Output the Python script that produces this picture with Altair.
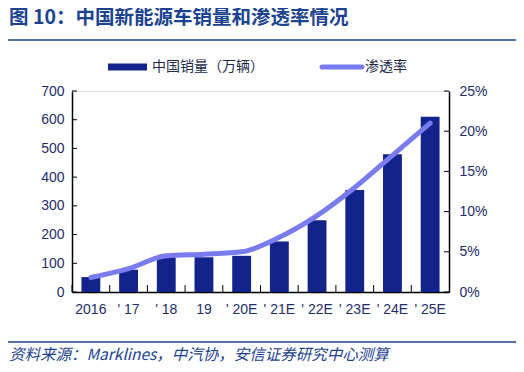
import altair as alt
import pandas as pd

categories = ["2016", "' 17", "' 18", "19", "' 20E", "' 21E", "' 22E", "' 23E", "' 24E", "' 25E"]
sales = [52, 78, 125, 121, 126, 176, 250, 355, 480, 610]
penetration = [0.018, 0.029, 0.045, 0.047, 0.050, 0.068, 0.095, 0.130, 0.170, 0.210]
left_ticks = [0, 100, 200, 300, 400, 500, 600, 700]
right_ticks = [0, 0.05, 0.10, 0.15, 0.20, 0.25]

df = pd.DataFrame({"cat": categories, "sales": sales, "pen": penetration})
df_lt = pd.DataFrame({"v": left_ticks})
df_rt = pd.DataFrame({"v": right_ticks})
df_xt = pd.DataFrame({"cat": categories})

W, H = 377, 201
BAR = "#12248C"
LINE = "#7B7BF0"
TXT = "#1F2D6B"
BLUE = "#1C4390"
FONT = "Liberation Sans"

xscale = alt.Scale(domain=categories, paddingInner=0, paddingOuter=0)
xenc = alt.X("cat:N", sort=categories, scale=xscale,
             axis=alt.Axis(title=None, labelAngle=0, labelFontSize=14, labelColor=TXT,
                           labelFont=FONT, ticks=False, domainColor="black",
                           labelPadding=10, domainWidth=1.5))

bars = alt.Chart(df).mark_bar(color=BAR, width={"band": 0.5}).encode(
    x=xenc,
    y=alt.Y("sales:Q", scale=alt.Scale(domain=[0, 700], nice=False),
            axis=alt.Axis(title=None, orient="left", values=left_ticks, grid=False,
                          ticks=False, labelFontSize=14, labelColor=TXT, labelFont=FONT,
                          domainColor="black", labelPadding=8, domainWidth=1.5)),
)

line = alt.Chart(df).mark_line(color=LINE, strokeWidth=5, strokeCap="round",
                                interpolate="monotone").encode(
    x=alt.X("cat:N", sort=categories, scale=xscale),
    y=alt.Y("pen:Q", scale=alt.Scale(domain=[0, 0.25], nice=False),
            axis=alt.Axis(title=None, orient="right", values=right_ticks, format=".0%",
                          grid=False, ticks=False, labelFontSize=14, labelColor=TXT,
                          labelFont=FONT, domainColor="black", labelPadding=10,
                          domainWidth=1.5)),
)

lticks = alt.Chart(df_lt).mark_rule(color="black", strokeWidth=1).encode(
    y=alt.Y("v:Q", scale=alt.Scale(domain=[0, 700], nice=False), axis=None),
    x=alt.value(0), x2=alt.value(5),
)
rticks = alt.Chart(df_rt).mark_rule(color="black", strokeWidth=1).encode(
    y=alt.Y("v:Q", scale=alt.Scale(domain=[0, 0.25], nice=False), axis=None),
    x=alt.value(W - 5), x2=alt.value(W),
)
xticks = alt.Chart(df_xt).mark_rule(color="black", strokeWidth=1).encode(
    x=alt.X("cat:N", sort=categories, scale=xscale, bandPosition=0),
    y=alt.value(H - 7), y2=alt.value(H),
)

# decorations
title = alt.Chart(pd.DataFrame({"t": ["图 10：中国新能源车销量和渗透率情况"]})).mark_text(
    align="left", baseline="top", fontSize=19.5, fontWeight="bold", color=BLUE,
    font="Noto Sans CJK SC").encode(text="t:N", x=alt.value(-63), y=alt.value(-82))
hline_top = alt.Chart(pd.DataFrame({"a": [0]})).mark_rule(color=BLUE, strokeWidth=1.5).encode(
    x=alt.value(-64), x2=alt.value(447), y=alt.value(-51))
hline_bot = alt.Chart(pd.DataFrame({"a": [0]})).mark_rule(color=BLUE, strokeWidth=1.5).encode(
    x=alt.value(-64), x2=alt.value(447), y=alt.value(251))
source = alt.Chart(pd.DataFrame({"t": ["资料来源：Marklines，中汽协，安信证券研究中心测算"]})).mark_text(
    align="left", baseline="middle", fontSize=15.5, fontStyle="italic", color=BLUE,
    font="Noto Sans CJK SC").encode(text="t:N", x=alt.value(-63), y=alt.value(264))

leg_bar = alt.Chart(pd.DataFrame({"a": [0]})).mark_rule(color=BAR, strokeWidth=7).encode(
    x=alt.value(36), x2=alt.value(75), y=alt.value(-24))
leg_bar_t = alt.Chart(pd.DataFrame({"t": ["中国销量（万辆）"]})).mark_text(
    align="left", baseline="middle", fontSize=14, color="#222a4a",
    font="Noto Sans CJK SC").encode(text="t:N", x=alt.value(80), y=alt.value(-24))
leg_line = alt.Chart(pd.DataFrame({"a": [0]})).mark_rule(color=LINE, strokeWidth=5,
                                                       strokeCap="round").encode(
    x=alt.value(250), x2=alt.value(290), y=alt.value(-24))
leg_line_t = alt.Chart(pd.DataFrame({"t": ["渗透率"]})).mark_text(
    align="left", baseline="middle", fontSize=14, color="#222a4a",
    font="Noto Sans CJK SC").encode(text="t:N", x=alt.value(293), y=alt.value(-24))

chart = alt.layer(
    bars, line, lticks, rticks,
    xticks, title, hline_top, hline_bot, source, leg_bar, leg_bar_t, leg_line, leg_line_t,
).resolve_scale(y="independent").properties(
    width=W, height=H,
    autosize=alt.AutoSizeParams(type="none"),
    padding={"left": 64, "top": 83, "right": 67, "bottom": 72},
).configure_view(stroke=None).configure(background="white")

chart.save("out.html", embed_options={"renderer": "svg", "actions": False})
